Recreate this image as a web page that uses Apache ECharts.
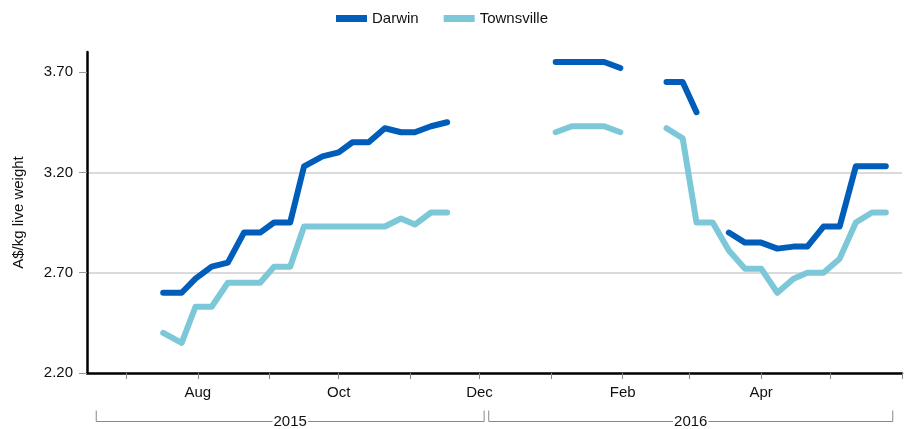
<!DOCTYPE html>
<html>
<head>
<meta charset="utf-8">
<title>Live cattle export prices</title>
<script src="https://cdn.jsdelivr.net/npm/echarts@6/dist/echarts.min.js"></script>
<style>
  html, body { margin: 0; padding: 0; background: #fff; }
  #main { width: 909px; height: 429px; }
</style>
</head>
<body>
<div id="main"></div>
<script>
// observation dates (null rows break the lines where there are no quotes)
var dates = [
    '2015-07-17', '2015-07-25', '2015-07-31', '2015-08-07', '2015-08-14', '2015-08-21', '2015-08-28',
    '2015-09-03', '2015-09-10', '2015-09-16', '2015-09-24', '2015-10-01', '2015-10-07', '2015-10-14',
    '2015-10-21', '2015-10-28', '2015-11-03', '2015-11-10', '2015-11-17',
    '2015-12-10',
    '2016-01-03', '2016-01-10', '2016-01-17', '2016-01-24', '2016-01-31',
    '2016-02-10',
    '2016-02-20', '2016-02-27', '2016-03-04', '2016-03-11', '2016-03-18', '2016-03-25', '2016-04-01',
    '2016-04-08', '2016-04-15', '2016-04-21', '2016-04-28', '2016-05-05', '2016-05-12', '2016-05-19',
    '2016-05-25'
];
var darwin = [
    2.60, 2.60, 2.67, 2.73, 2.75, 2.90, 2.90, 2.95, 2.95, 3.23, 3.28, 3.30, 3.35, 3.35, 3.42, 3.40, 3.40, 3.43, 3.45,
    null,
    3.75, 3.75, 3.75, 3.75, 3.72,
    null,
    3.65, 3.65, 3.50, null, 2.90, 2.85, 2.85, 2.82, 2.83, 2.83, 2.93, 2.93, 3.23, 3.23, 3.23
];
var townsville = [
    2.40, 2.35, 2.53, 2.53, 2.65, 2.65, 2.65, 2.73, 2.73, 2.93, 2.93, 2.93, 2.93, 2.93, 2.93, 2.97, 2.94, 3.00, 3.00,
    null,
    3.40, 3.43, 3.43, 3.43, 3.40,
    null,
    3.42, 3.37, 2.95, 2.95, 2.81, 2.72, 2.72, 2.60, 2.67, 2.70, 2.70, 2.77, 2.95, 3.00, 3.00
];

// axes
var xRange = ['2015-06-14', '2016-06-01'];
var tickMonths = [
    '2015-07-01', '2015-08-01', '2015-09-01', '2015-10-01', '2015-11-01', '2015-12-01',
    '2016-01-01', '2016-02-01', '2016-03-01', '2016-04-01', '2016-05-01', '2016-06-01'
];
var labelMonths = ['2015-08-01', '2015-10-01', '2015-12-01', '2016-02-01', '2016-04-01'];
var monthNames = ['Aug', 'Oct', 'Dec', 'Feb', 'Apr'];
var yTicks = [2.2, 2.7, 3.2, 3.7];
var years = ['2015', '2016'];
var yearSpans = [['2015-06-18', '2015-12-03'], ['2015-12-05', '2016-05-28']];

var DARK = '#005db9', LIGHT = '#7dc8d8';
var FONT = 'Liberation Sans, Arial, sans-serif';

function toTime(s) {
    var p = s.split('-');
    return new Date(+p[0], +p[1] - 1, +p[2]).getTime();
}

var labelTimes = labelMonths.map(toTime);

function pairs(values) {
    return dates.map(function(d, i) {
        return [toTime(d), values[i] == null ? '-' : values[i]];
    });
}

var myChart = echarts.init(document.getElementById('main'), null, {renderer: 'canvas'});

var option = {
    animation: false,
    backgroundColor: '#fff',
    textStyle: {fontFamily: FONT},
    legend: {
        top: 11,
        left: 336,
        padding: 0,
        itemWidth: 31,
        itemHeight: 7,
        itemGap: 25,
        icon: 'rect',
        textStyle: {fontSize: 15, color: '#111', fontFamily: FONT},
        data: ['Darwin', 'Townsville']
    },
    grid: {left: 87, right: 7, top: 52, bottom: 56, containLabel: false},
    // time as plain numbers so the month ticks can be placed exactly
    xAxis: {
        type: 'value',
        min: toTime(xRange[0]),
        max: toTime(xRange[1]),
        axisLine: {show: true, onZero: false, lineStyle: {color: '#000', width: 2.5}},
        axisTick: {
            show: true,
            length: 6,
            customValues: tickMonths.map(toTime),
            lineStyle: {color: '#888', width: 1}
        },
        axisLabel: {
            customValues: labelTimes,
            margin: 12,
            fontSize: 15,
            color: '#111',
            fontFamily: FONT,
            formatter: function(v) {
                var i = labelTimes.indexOf(v);
                return i >= 0 ? monthNames[i] : '';
            }
        },
        splitLine: {show: false}
    },
    yAxis: {
        type: 'value',
        min: 2.2,
        max: 3.8,
        interval: 0.5,
        name: 'A$/kg live weight',
        nameLocation: 'middle',
        nameGap: 61,
        nameRotate: 90,
        nameTextStyle: {fontSize: 15, color: '#111', fontFamily: FONT},
        axisLine: {show: true, lineStyle: {color: '#000', width: 2.5}},
        axisTick: {
            show: true,
            length: 8,
            customValues: yTicks,
            lineStyle: {color: '#999', width: 1}
        },
        axisLabel: {
            customValues: yTicks,
            margin: 14,
            fontSize: 15,
            color: '#111',
            fontFamily: FONT,
            formatter: function(v) { return v.toFixed(2); }
        },
        splitLine: {
            show: true,
            showMinLine: false,
            showMaxLine: false,
            lineStyle: {color: '#dadada', width: 2}
        }
    },
    series: [{
        name: 'Darwin',
        type: 'line',
        data: pairs(darwin),
        showSymbol: false,
        connectNulls: false,
        color: DARK,
        lineStyle: {width: 6, color: DARK, cap: 'round', join: 'round'},
        z: 3
    }, {
        name: 'Townsville',
        type: 'line',
        data: pairs(townsville),
        showSymbol: false,
        connectNulls: false,
        color: LIGHT,
        lineStyle: {width: 6, color: LIGHT, cap: 'round', join: 'round'},
        z: 2
    }]
};

myChart.setOption(option);

// year brackets under the month labels
var graphics = [];
yearSpans.forEach(function(span, i) {
    var x1 = myChart.convertToPixel({xAxisIndex: 0}, toTime(span[0]));
    var x2 = myChart.convertToPixel({xAxisIndex: 0}, toTime(span[1]));
    graphics.push({
        type: 'polyline',
        silent: true,
        shape: {points: [[x1, 410.5], [x1, 421.5], [x2, 421.5], [x2, 410.5]]},
        style: {stroke: '#888', lineWidth: 1, fill: null}
    });
    graphics.push({
        type: 'text',
        silent: true,
        z: 10,
        style: {
            text: years[i],
            x: (x1 + x2) / 2,
            y: 422,
            align: 'center',
            verticalAlign: 'middle',
            font: '15px ' + FONT,
            fill: '#111',
            backgroundColor: '#fff',
            padding: [0, 1]
        }
    });
});
myChart.setOption({graphic: graphics});
</script>
</body>
</html>
